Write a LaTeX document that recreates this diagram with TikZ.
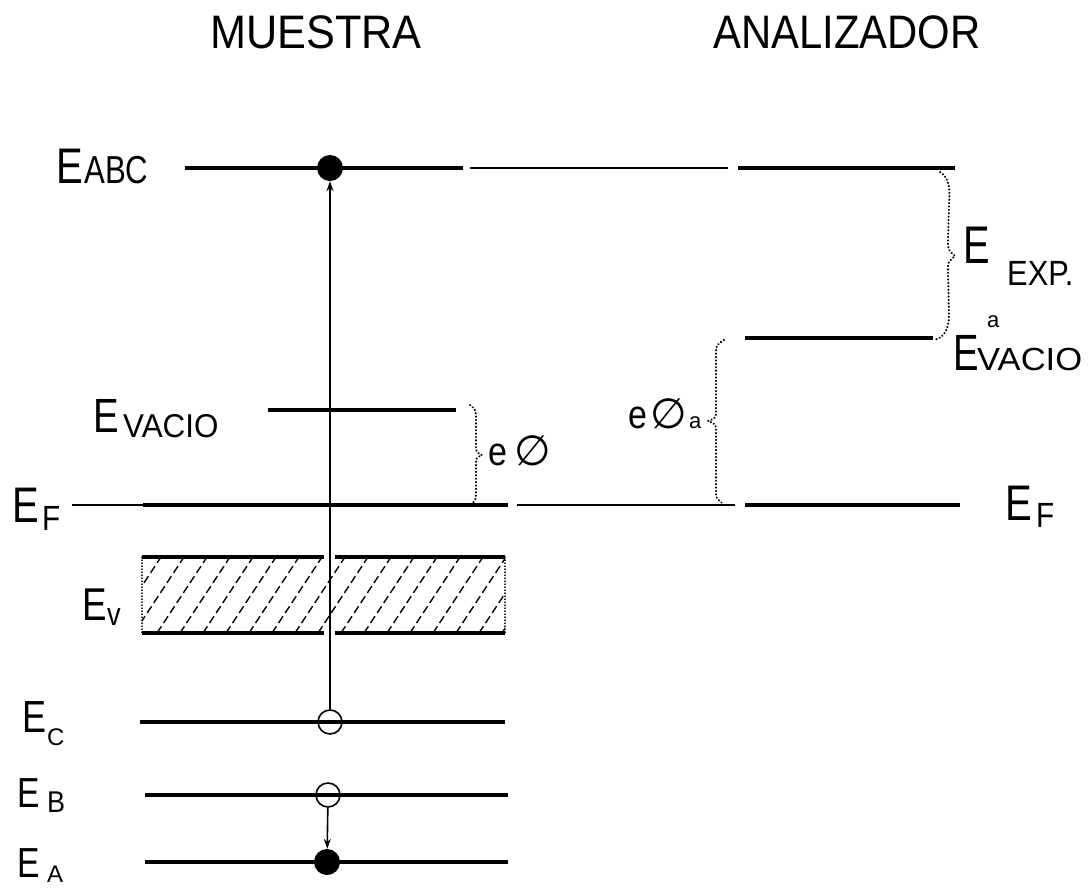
\documentclass[tikz,border=0pt]{standalone}
\usepackage{fontspec}
\setmainfont{Liberation Sans}
\newfontfamily\symfont{DejaVu Sans}
\usepackage{graphicx}
\usetikzlibrary{arrows.meta}
% #1 size in pt, #2 horizontal squeeze, #3 text
\newcommand\lbl[3]{\scalebox{#2}[1]{\fontsize{#1}{#1}\selectfont #3}}
\newcommand\phisym[1]{{\symfont\fontsize{#1}{#1}\selectfont ∅}}

\begin{document}
\begin{tikzpicture}[x=1pt,y=-1pt,
  level/.style={line width=4.5pt},
  link/.style={line width=1.6pt},
  gapbrace/.style={line width=2pt, line cap=round, dash pattern=on 0.4pt off 3pt},
  sidedot/.style={line width=1.2pt, line cap=round, dash pattern=on 0.4pt off 2.6pt},
  hatchline/.style={line width=1.4pt, dash pattern=on 8pt off 4pt},
  txt/.style={inner sep=0pt, anchor=base west},
  hole/.style={circle, draw, line width=1.6pt, minimum size=24pt, inner sep=0pt},
  full/.style={circle, fill, minimum size=26pt, inner sep=0pt},
  jump/.style={line width=1.6pt, -{Stealth[length=10pt,width=7pt]}}
]
\path[use as bounding box] (0,0) rectangle (1089,892);

% column titles
\node[txt, anchor=base] (tMuestra) at (316,48) {\lbl{47}{0.92}{MUESTRA}};
\node[txt, anchor=base] (tAnaliz) at (847,48) {\lbl{47}{0.89}{ANALIZADOR}};

% ---------- sample levels ----------
\draw[level] (185,168) -- (463,168);
\draw[link]  (470,168) -- (728,168);
\draw[level] (738,168) -- (955,168);

\draw[level] (268,410) -- (456,410);

\draw[link]  (72,505) -- (143,505);
\draw[level] (143,505) -- (508,505);
\draw[link]  (517,505) -- (735,505);
\draw[level] (745,505) -- (960,505);

% valence band
\begin{scope}
  \clip (142,557) rectangle (505,633);
  \foreach \s in {88,111,...,520} \draw[hatchline] (\s,633) -- ++(50,-76);
\end{scope}
\draw[sidedot] (142,557) -- (142,633);
\draw[sidedot] (505,557) -- (505,633);
\draw[level] (142,557) -- (324,557);
\draw[level] (335,557) -- (505,557);
\draw[level] (142,633) -- (324,633);
\draw[level] (335,633) -- (505,633);

% core levels
\draw[level] (140,722) -- (505,722);
\draw[level] (145,795) -- (508,795);
\draw[level] (145,862) -- (508,862);

% analyser vacuum level
\draw[level] (745,338) -- (933,338);

% electrons and holes
\node[full] (cABC) at (330,168) {};
\node[hole] (cC) at (330,722) {};
\node[hole] (cB) at (328,795) {};
\node[full] (cA) at (327,862) {};
\draw[jump] (cC) -- (cABC);
\draw[jump] (cB) -- (cA);

% braces
\draw[gapbrace] (940,172) .. controls (950,178) and (950,190) .. (949,205)
  -- (948,240) .. controls (948,250) .. (955,256) .. controls (948,262) .. (948,272)
  -- (949,315) .. controls (949,332) and (942,338) .. (934,340);
\draw[gapbrace] (470,405) .. controls (476,410) .. (476,420)
  -- (476,445) .. controls (476,452) .. (482,455) .. controls (476,458) .. (476,465)
  -- (476,490) .. controls (476,500) .. (470,505);
\draw[gapbrace] (724,340) .. controls (716,345) .. (716,355)
  -- (716,410) .. controls (716,418) .. (708,421) .. controls (716,424) .. (716,432)
  -- (716,490) .. controls (716,498) .. (722,503);

% level labels
\node[txt] (eABC) at (56,183) {\lbl{50}{0.8}{E}};
\node[txt] (sABC) at (84,183) {\lbl{39}{0.8}{ABC}};

\node[txt] (eVac) at (93,432) {\lbl{48}{0.8}{E}};
\node[txt] (sVac) at (123,437) {\lbl{33}{0.95}{VACIO}};

\node[txt] (eFl) at (12,522) {\lbl{50}{0.8}{E}};
\node[txt] (sFl) at (42,530) {\lbl{35}{0.85}{F}};

\node[txt] (eV) at (82,620) {\lbl{46}{0.8}{E}};
\node[txt] (sV) at (107,625) {\lbl{32}{0.85}{v}};

\node[txt] (eC) at (22,732) {\lbl{45}{0.8}{E}};
\node[txt] (sC) at (47,745) {\lbl{24}{1}{C}};

\node[txt] (eB) at (17,807) {\lbl{42}{0.8}{E}};
\node[txt] (sB) at (47,812) {\lbl{30}{0.9}{B}};

\node[txt] (eA) at (17,877) {\lbl{42}{0.8}{E}};
\node[txt] (sA) at (47,882) {\lbl{24}{1}{A}};

\node[txt] (eExp) at (963,263) {\lbl{53}{0.75}{E}};
\node[txt] (sExp) at (1007,285) {\lbl{35}{0.88}{EXP.}};

\node[txt] (eVa) at (953,370) {\lbl{51}{0.75}{E}};
\node[txt] (supVa) at (987,327) {\lbl{22}{1}{a}};
\node[txt] (sVa) at (977,370) {\lbl{32}{1.08}{VACIO}};

\node[txt] (eFr) at (1005,520) {\lbl{50}{0.8}{E}};
\node[txt] (sFr) at (1036,527) {\lbl{35}{0.85}{F}};

% work functions
\node[txt] (wE) at (488,465) {\lbl{40}{0.85}{e}};
\node[txt] (wPhi) at (514,465) {\phisym{42}};
\node[txt] (waE) at (628,428) {\lbl{40}{0.85}{e}};
\node[txt] (waPhi) at (650,428) {\phisym{42}};
\node[txt] (waSub) at (689,428) {\lbl{22}{1}{a}};
\end{tikzpicture}
\end{document}
